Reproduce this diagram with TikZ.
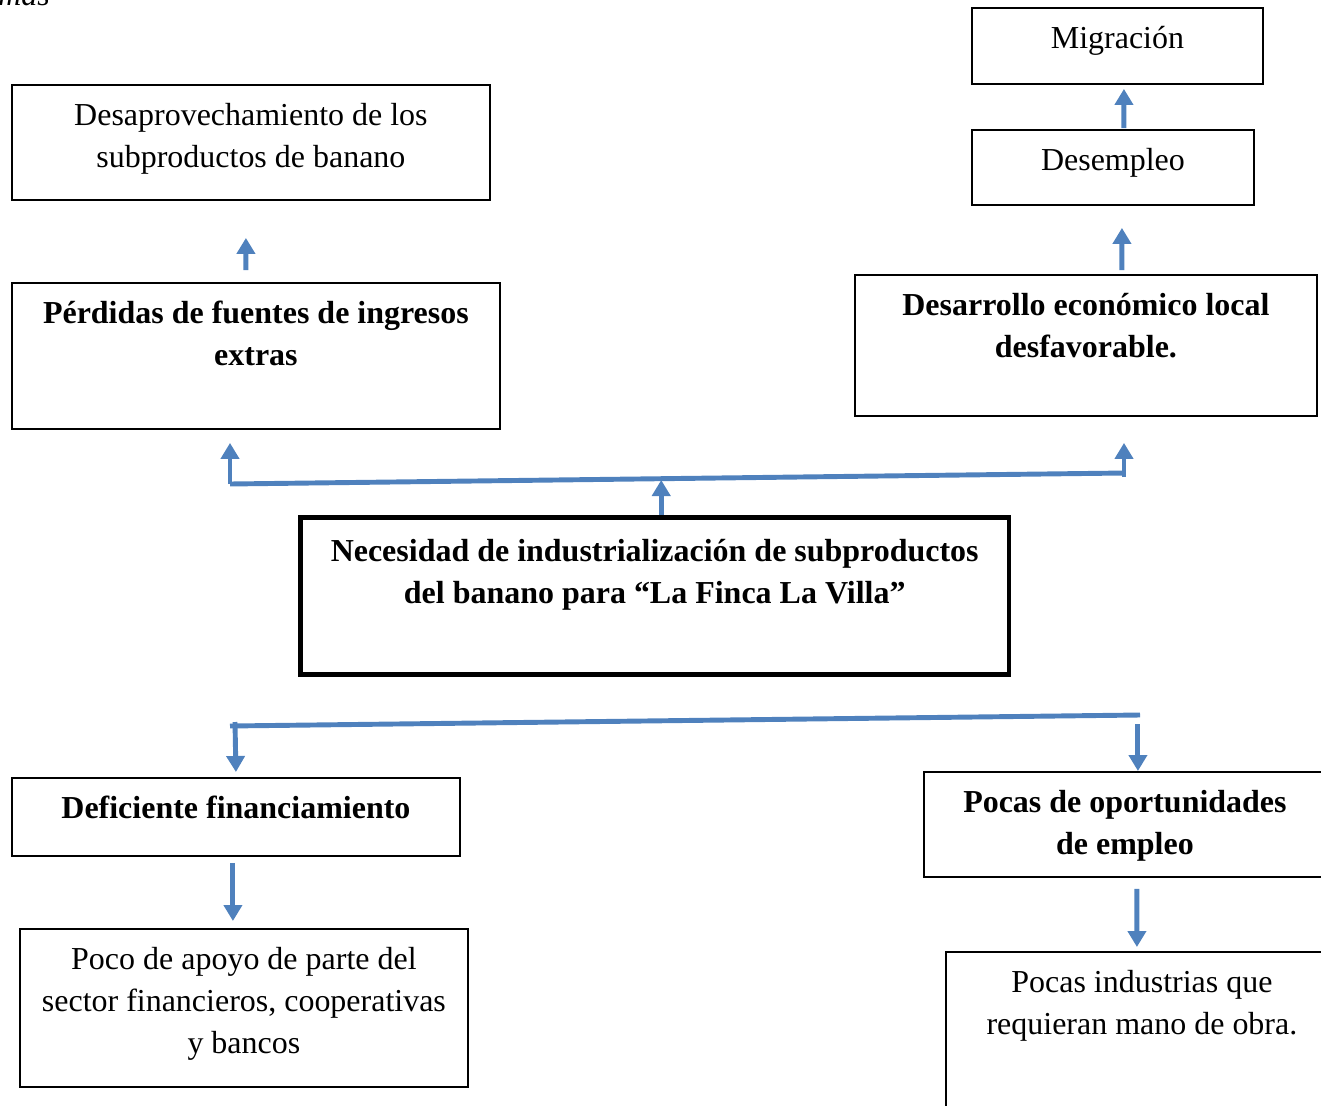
\documentclass[tikz,border=0pt]{standalone}
\usepackage{fontspec}
\setmainfont{Liberation Serif}
\usepackage{tikz}
\usetikzlibrary{arrows.meta,calc,positioning}
\definecolor{linkblue}{HTML}{4F81BD}
% text of a box, set from the top
\newcommand{\boxtxt}[3]{\parbox[c][#2][t]{#1}{\centering\rule{0pt}{23pt}#3}}

\begin{document}
\begin{tikzpicture}[
    x=0.02cm, y=-0.02cm,
    font=\fontsize{18.2}{23.8}\selectfont,
    box/.style={rectangle, draw=black, line width=1.1pt, inner sep=0pt, anchor=north west},
    mainbox/.style={box, line width=2.6pt},
    link/.style={draw=linkblue, line width=2.8pt},
    arrow/.style={link, -{Triangle[width=0.36cm, length=0.32cm]}}
]
    \useasboundingbox (0,0) rectangle (1321,1105);
    \node[font=\fontsize{18.2}{23.8}\selectfont\itshape, anchor=base east] (caption) at (56,6) {emas};

    % Effects
    \node[box] (migr) at (971,7) {\boxtxt{5.82cm}{1.52cm}{Migración}};
    \node[box] (desemp) at (971,129) {\boxtxt{5.64cm}{1.5cm}{Desempleo}};
    \node[box] (desap) at (11,84) {\boxtxt{9.56cm}{2.3cm}{Desaprovechamiento de los\\subproductos de banano}};
    \node[box] (perd) at (11,282) {\boxtxt{9.76cm}{2.92cm}{\bfseries Pérdidas de fuentes de ingresos\\extras}};
    \node[box] (desarr) at (854,274) {\boxtxt{9.24cm}{2.82cm}{\bfseries Desarrollo económico local\\desfavorable.}};

    % Problem
    \node[mainbox] (nec) at (298,515) {\boxtxt{14.18cm}{3.14cm}{\bfseries\rule{0pt}{25pt}Necesidad de industrialización de subproductos\\del banano para “La Finca La Villa”}};

    % Causes
    \node[box] (defic) at (11,777) {\boxtxt{8.96cm}{1.56cm}{\bfseries Deficiente financiamiento}};
    \node[box] (pocop) at (923,771) {\boxtxt{8.04cm}{2.1cm}{\bfseries Pocas de oportunidades\\de empleo}};
    \node[box] (apoyo) at (19,928) {\boxtxt{8.96cm}{3.16cm}{Poco de apoyo de parte del\\sector financieros, cooperativas\\y bancos}};
    \node[box] (pocind) at (945,951) {\boxtxt{7.84cm}{3.4cm}{Pocas industrias que\\requieran mano de obra.}};

    % Arrows to the effects
    \draw[arrow] ($(perd.north)+(-10,-12)$) -- ($(desap.south)+(-5,37)$);
    \draw[arrow] ($(desemp.north)+(11,-1)$) -- ($(migr.south)+(6.5,4)$);
    \draw[arrow] ($(desarr.north)+(36,-4)$) -- ($(desemp.south)+(9,22)$);

    \coordinate (topl) at (230,484);
    \coordinate (topr) at (1125,473);
    \draw[link] (topl) -- (topr);
    \draw[arrow] (topl) -- ($(topl |- perd.south)+(0,13)$);
    \draw[arrow] ($(topr)+(-1,4)$) -- ($(topr |- desarr.south)+(-1,26)$);
    \draw[arrow] ($(nec.north)+(6.5,0)$) -- ($(nec.north)+(6.5,-35)$);

    % Arrows to the causes
    \coordinate (botl) at (230,726);
    \coordinate (botr) at (1140,715);
    \draw[link] (botl) -- (botr);
    \draw[arrow] ($(botl)+(5,-4)$) -- ($(defic.north)+(0,-5)$);
    \draw[arrow] ($(pocop.north)+(13,-47)$) -- ($(pocop.north)+(13,0)$);
    \draw[arrow] ($(defic.south)+(-3,6)$) -- ($(apoyo.north)+(-11,-7)$);
    \draw[arrow] ($(pocop.south)+(12,11)$) -- ($(pocind.north)+(-5,-4)$);
\end{tikzpicture}
\end{document}
